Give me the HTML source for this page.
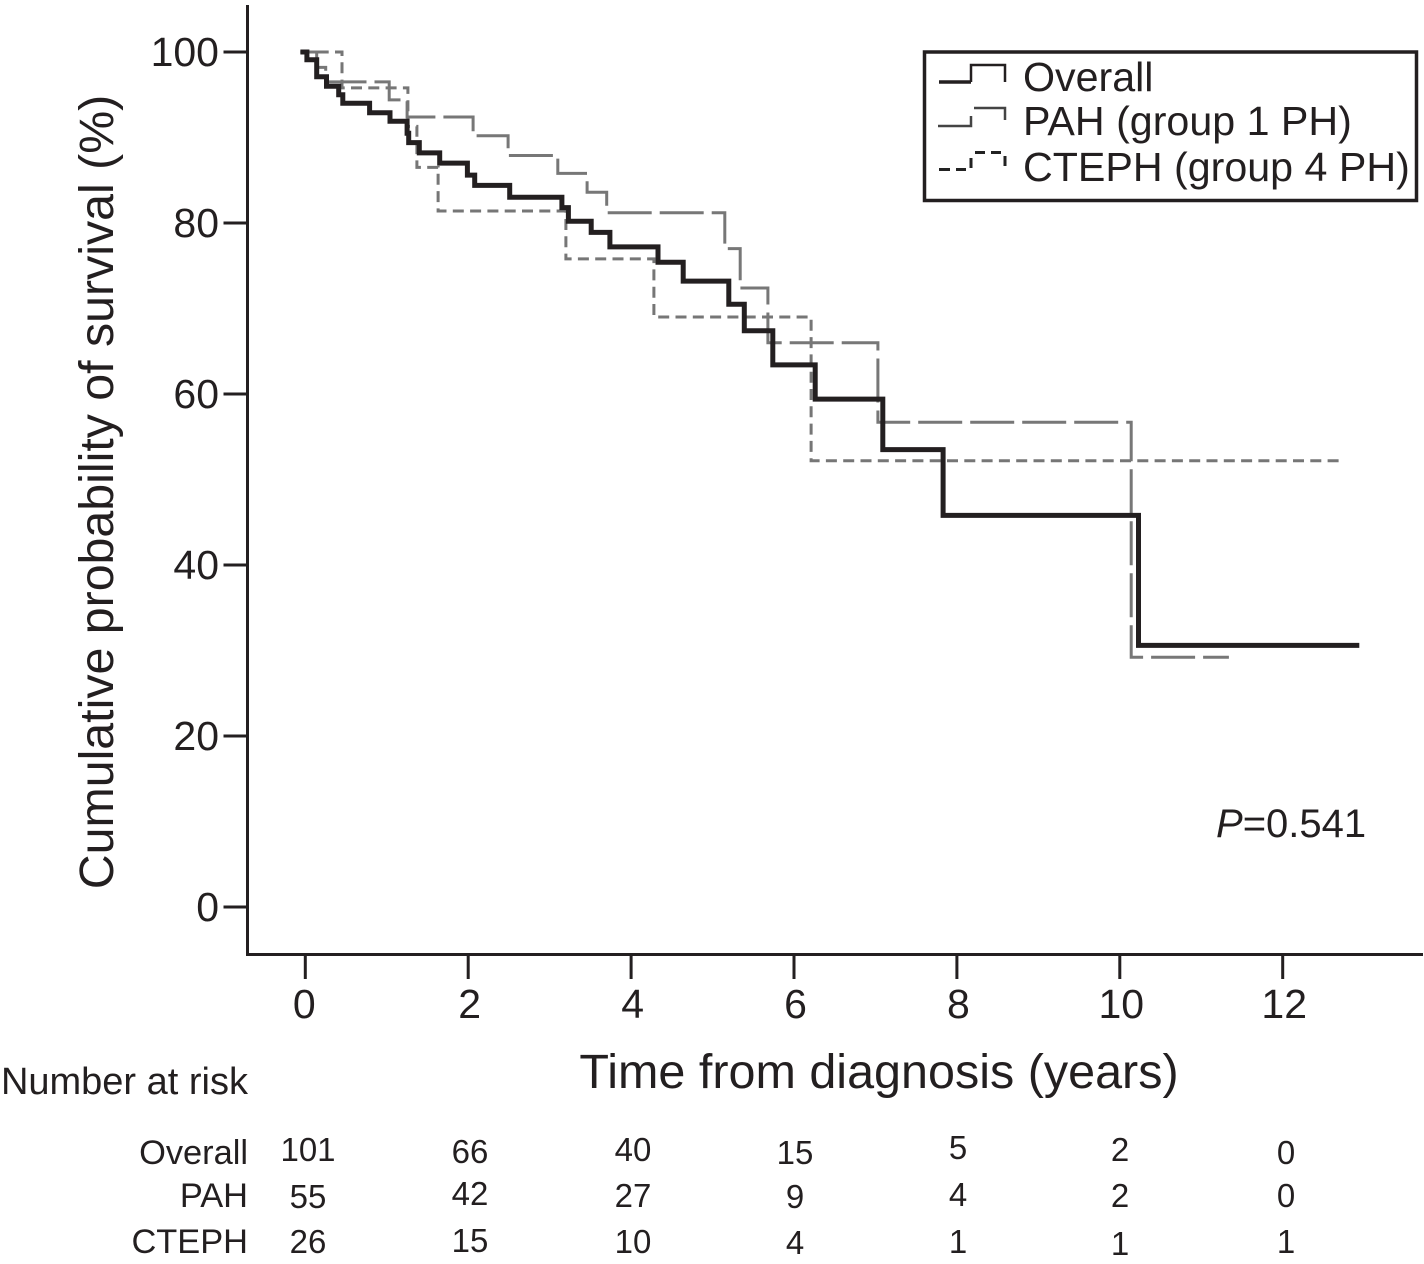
<!DOCTYPE html>
<html lang="en">
<head>
<meta charset="utf-8">
<title>Kaplan-Meier survival chart</title>
<style>
html,body{margin:0;padding:0;background:#fff;}
svg{display:block;}
text{font-family:"Liberation Sans",Arial,sans-serif;fill:#231f20;}
</style>
</head>
<body>
<svg id="chart" xmlns="http://www.w3.org/2000/svg" width="1424" height="1264" viewBox="0 0 1424 1264">
  <rect x="0" y="0" width="1424" height="1264" fill="#fff"/>
  <g id="series"></g>
  <g id="axes">
    <line x1="247.5" y1="5" x2="247.5" y2="956" stroke="#231f20" stroke-width="3"/>
    <line x1="246" y1="954.5" x2="1423" y2="954.5" stroke="#231f20" stroke-width="3"/>
  </g>
  <text transform="translate(113,492) rotate(-90)" text-anchor="middle" font-size="48.3">Cumulative probability of survival (%)</text>
  <text x="879" y="1088" text-anchor="middle" font-size="48.5">Time from diagnosis (years)</text>

  <g>
    <rect x="924.5" y="52" width="492" height="148.5" fill="#fff" stroke="#231f20" stroke-width="3.5"/>
    <g>
      <path d="M939 82 H971" fill="none" stroke="#231f20" stroke-width="3.5"/>
      <path d="M971 82 V65 H1005 V82" fill="none" stroke="#231f20" stroke-width="2.5"/>
      <text x="1023" y="91" font-size="41.2">Overall</text>
    </g>
    <g>
      <path d="M938 126 H971 V116 M974 108 H1005 V120" fill="none" stroke="#444" stroke-width="2.5"/>
      <text x="1023" y="135" font-size="41.2">PAH (group 1 PH)</text>
    </g>
    <g>
      <path d="M939 169.5 H950 M956 169.5 H966 M971 168 V158 M975 152.5 H985 M991 152.5 H1001 M1005 156 V166" fill="none" stroke="#222" stroke-width="3"/>
      <text x="1023" y="181" font-size="41.2">CTEPH (group 4 PH)</text>
    </g>
  </g>

  <text x="1216" y="837" font-size="40"><tspan font-style="italic">P</tspan>=0.541</text>

  <g>
    <text x="248" y="1094" text-anchor="end" font-size="38">Number at risk</text>
    <g font-size="34.4" text-anchor="end">
      <text x="248" y="1164">Overall</text>
      <text x="248" y="1207">PAH</text>
      <text x="248" y="1253">CTEPH</text>
    </g>
    <g font-size="33" text-anchor="middle">
      <text x="308" y="1161">101</text>
      <text x="470" y="1163">66</text>
      <text x="633" y="1161">40</text>
      <text x="795" y="1164">15</text>
      <text x="958" y="1159">5</text>
      <text x="1120" y="1161">2</text>
      <text x="1286" y="1164">0</text>
      <text x="308" y="1208">55</text>
      <text x="470" y="1205">42</text>
      <text x="633" y="1207">27</text>
      <text x="795" y="1208">9</text>
      <text x="958" y="1206">4</text>
      <text x="1120" y="1207">2</text>
      <text x="1286" y="1207">0</text>
      <text x="308" y="1253">26</text>
      <text x="470" y="1252">15</text>
      <text x="633" y="1253">10</text>
      <text x="795" y="1254">4</text>
      <text x="958" y="1253">1</text>
      <text x="1120" y="1255">1</text>
      <text x="1286" y="1253">1</text>
    </g>
  </g>
</svg>
<script>
const xTicks = [0, 2, 4, 6, 8, 10, 12];
const yTicks = [0, 20, 40, 60, 80, 100];

const overallTimes = [-0.06, 0.02, 0.14, 0.26, 0.41, 0.46, 0.79, 1.04, 1.25, 1.27, 1.40, 1.65, 1.99, 2.08, 2.51, 3.15, 3.23, 3.51, 3.74, 4.33, 4.64, 5.20, 5.39, 5.74, 6.26, 7.09, 7.83, 10.23, 12.94];
const overallSurvival = [100, 99.1, 97.1, 96.0, 95.0, 94.0, 92.9, 91.9, 90.5, 89.4, 88.2, 87.0, 85.6, 84.4, 83.0, 81.8, 80.2, 78.9, 77.2, 75.4, 73.2, 70.5, 67.4, 63.4, 59.4, 53.5, 45.8, 30.6, 30.6];

const pahTimes = [-0.06, 0.14, 0.25, 1.03, 1.25, 2.06, 2.49, 3.10, 3.46, 3.70, 5.15, 5.34, 5.68, 7.03, 10.14, 11.34];
const pahSurvival = [100, 98.2, 96.5, 94.4, 92.4, 90.2, 87.9, 85.8, 83.6, 81.2, 77.0, 72.4, 66.0, 56.7, 29.2, 29.2];

const ctephTimes = [-0.06, 0.45, 1.26, 1.37, 1.63, 3.20, 4.28, 6.21, 12.74];
const ctephSurvival = [100, 95.8, 91.3, 86.5, 81.4, 75.8, 69.0, 52.2, 52.2];

const SVG_NS = 'http://www.w3.org/2000/svg';
const xScale = function (t) { return 305.3 + t * 81.45; };
const yScale = function (s) { return 907 - s * 8.55; };

function stepPath(times, survival) {
  let d = 'M' + xScale(times[0]).toFixed(1) + ' ' + yScale(survival[0]).toFixed(1);
  for (let i = 1; i < times.length; i++) {
    d += ' H' + xScale(times[i]).toFixed(1) + ' V' + yScale(survival[i]).toFixed(1);
  }
  return d;
}

const seriesGroup = document.getElementById('series');

function makeCurve(times, survival, color, width, dash) {
  const p = document.createElementNS(SVG_NS, 'path');
  p.setAttribute('d', stepPath(times, survival));
  p.setAttribute('fill', 'none');
  p.setAttribute('stroke', color);
  p.setAttribute('stroke-width', width);
  p.setAttribute('stroke-linejoin', 'miter');
  if (dash) { p.setAttribute('stroke-dasharray', dash); }
  seriesGroup.appendChild(p);
  return p;
}

const ctephCurve = makeCurve(ctephTimes, ctephSurvival, '#767676', 3, '11 6.3');



const pahCurve = makeCurve(pahTimes, pahSurvival, '#777777', 3, '44 8');



const overallCurve = makeCurve(overallTimes, overallSurvival, '#231f20', 5, null);



const axesGroup = document.getElementById('axes');

xTicks.forEach(function (t) {
  const line = document.createElementNS(SVG_NS, 'line');
  line.setAttribute('x1', xScale(t));
  line.setAttribute('x2', xScale(t));
  line.setAttribute('y1', 955);
  line.setAttribute('y2', 979);
  line.setAttribute('stroke', '#231f20');
  line.setAttribute('stroke-width', 3);
  
  
  axesGroup.appendChild(line);
  const label = document.createElementNS(SVG_NS, 'text');
  label.setAttribute('x', xScale(t) + (t >= 2 ? 1.5 : -1));
  label.setAttribute('y', 1018);
  label.setAttribute('text-anchor', 'middle');
  label.setAttribute('font-size', 41);
  label.textContent = t;
  
  
  axesGroup.appendChild(label);
});

yTicks.forEach(function (s) {
  const line = document.createElementNS(SVG_NS, 'line');
  line.setAttribute('x1', 223.5);
  line.setAttribute('x2', 247);
  line.setAttribute('y1', yScale(s));
  line.setAttribute('y2', yScale(s));
  line.setAttribute('stroke', '#231f20');
  line.setAttribute('stroke-width', 3);
  
  
  axesGroup.appendChild(line);
  const label = document.createElementNS(SVG_NS, 'text');
  label.setAttribute('x', 219);
  label.setAttribute('y', yScale(s) + 14);
  label.setAttribute('text-anchor', 'end');
  label.setAttribute('font-size', 41);
  label.textContent = s;
  
  
  axesGroup.appendChild(label);
});
</script>
</body>
</html>
